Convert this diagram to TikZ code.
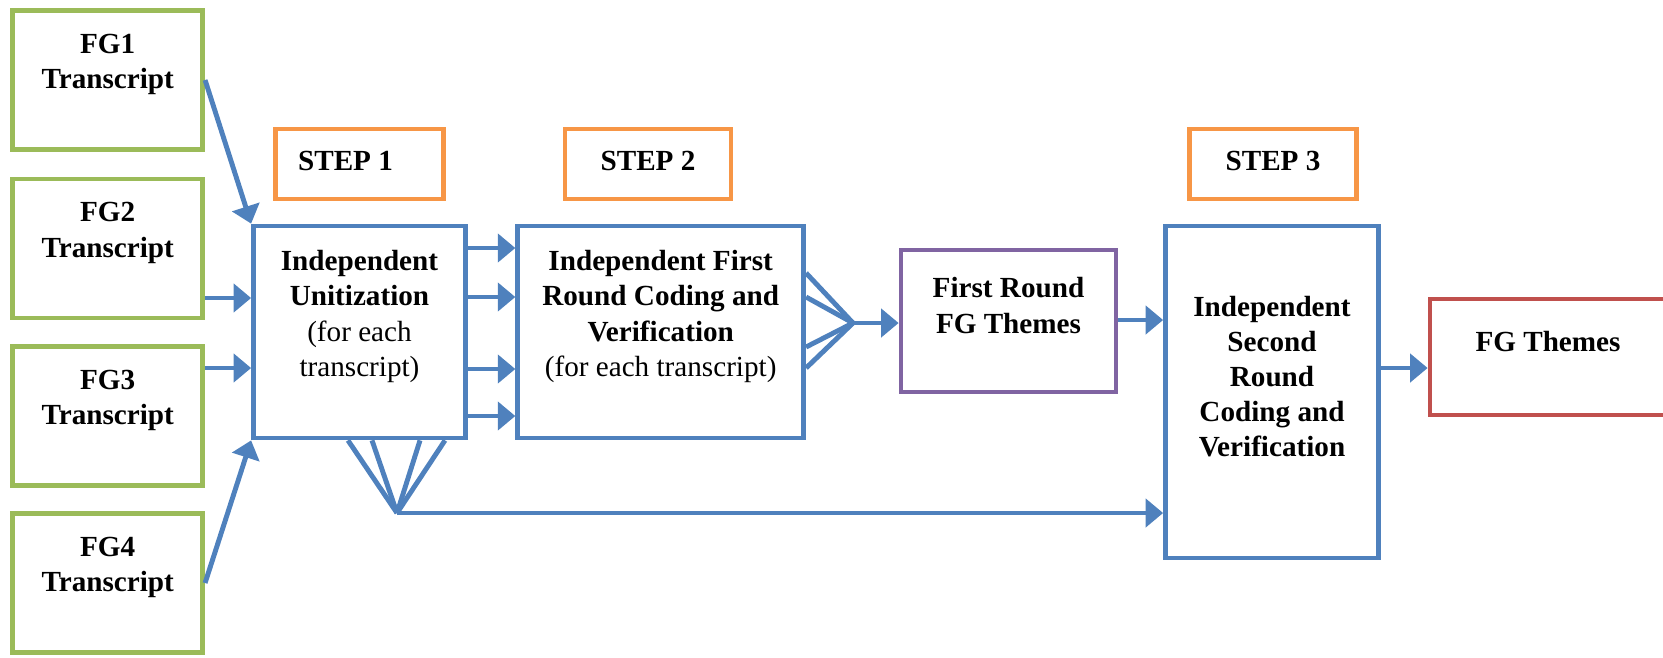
\documentclass[tikz,border=0pt]{standalone}
\usepackage{fontspec}
\setmainfont{Liberation Serif}
\usetikzlibrary{arrows.meta}
\definecolor{fggreen}{HTML}{9BBB59}
\definecolor{steporange}{HTML}{F79646}
\definecolor{flowblue}{HTML}{4F81BD}
\definecolor{themepurple}{HTML}{8064A2}
\definecolor{themered}{HTML}{C0504D}
\begin{document}
\begin{tikzpicture}
[boxdecorate/.style={shape=rectangle,draw,line width=1.35pt,inner sep=0pt},%
  textdecorate/.style={align=center,font=\fontsize{8.3}{10}\selectfont\bfseries},%
  flow/.style={draw=flowblue,line width=1.4pt,-{Triangle[length=5pt,width=8pt]}},%
  fan/.style={draw=flowblue,line width=1.4pt,line join=round}]
\useasboundingbox (0,0) rectangle (16.63,6.57);
%% boxes
\foreach \boxname/\x/\y/\w/\h/\col in {fg1/1.077/5.77/1.90/1.39/fggreen,
  fg2/1.077/4.085/1.90/1.39/fggreen, fg3/1.077/2.41/1.90/1.39/fggreen,
  fg4/1.077/0.74/1.90/1.39/fggreen,
  step1/3.595/4.93/1.68/0.70/steporange, step2/6.48/4.93/1.66/0.70/steporange,
  step3/12.73/4.93/1.67/0.70/steporange,
  unit/3.595/3.25/2.12/2.12/flowblue, first/6.607/3.25/2.86/2.12/flowblue,
  themes1/10.085/3.36/2.15/1.42/themepurple, second/12.72/2.65/2.13/3.32/flowblue,
  themes/15.48/3.00/2.36/1.16/themered} {
  \node (\boxname) at (\x,\y) [boxdecorate,draw=\col,minimum width=\w cm,minimum height=\h cm] {};
}
%% texts
\foreach \boxname/\txt in {fg1/{FG1\\Transcript}, fg2/{FG2\\Transcript},
  fg3/{FG3\\Transcript}, fg4/{FG4\\Transcript},
  unit/{Independent\\Unitization\\\textmd{(for each}\\\textmd{transcript)}},
  first/{Independent First\\Round Coding and\\Verification\\\textmd{(for each transcript)}},
  themes1/{First Round\\FG Themes},
  second/{Independent\\Second\\Round\\Coding and\\Verification},
  themes/{FG Themes}} {
  \node [textdecorate] at ([yshift=1.55mm]\boxname.center) {\txt};
}
\node [textdecorate] at ([xshift=-1.4mm,yshift=0.3mm]step1.center) {STEP 1};
\node [textdecorate] at ([yshift=0.3mm]step2.center) {STEP 2};
\node [textdecorate] at ([yshift=0.3mm]step3.center) {STEP 3};
%% transcripts into unitization
\draw [flow] (fg1.east) -- (unit.north west);
\draw [flow] (fg2.east |- 0,3.59) -- (unit.west |- 0,3.59);
\draw [flow] (fg3.east |- 0,2.89) -- (unit.west |- 0,2.89);
\draw [flow] (fg4.east) -- (unit.south west);
%% unitization into first round coding
\foreach \y in {4.09, 3.60, 2.88, 2.41} {
  \draw [flow] (unit.east |- 0,\y) -- (first.west |- 0,\y);
}
%% fan below unitization
\coordinate (unitfan) at (3.97,1.44);
\foreach \x in {3.48, 3.72, 4.20, 4.45} {
  \draw [fan] (unit.south -| \x,0) -- (unitfan);
}
\draw [flow] (unitfan) -- (second.west |- unitfan);
%% fan right of first round coding
\coordinate (firstfan) at (8.53,3.34);
\foreach \y in {3.84, 3.60, 3.10, 2.89} {
  \draw [fan] (first.east |- 0,\y) -- (firstfan);
}
\draw [flow] (firstfan) -- (themes1.west |- firstfan);
\draw [flow] (themes1.east |- 0,3.37) -- (second.west |- 0,3.37);
\draw [flow] (second.east |- 0,2.89) -- (themes.west |- 0,2.89);
\end{tikzpicture}
\end{document}
